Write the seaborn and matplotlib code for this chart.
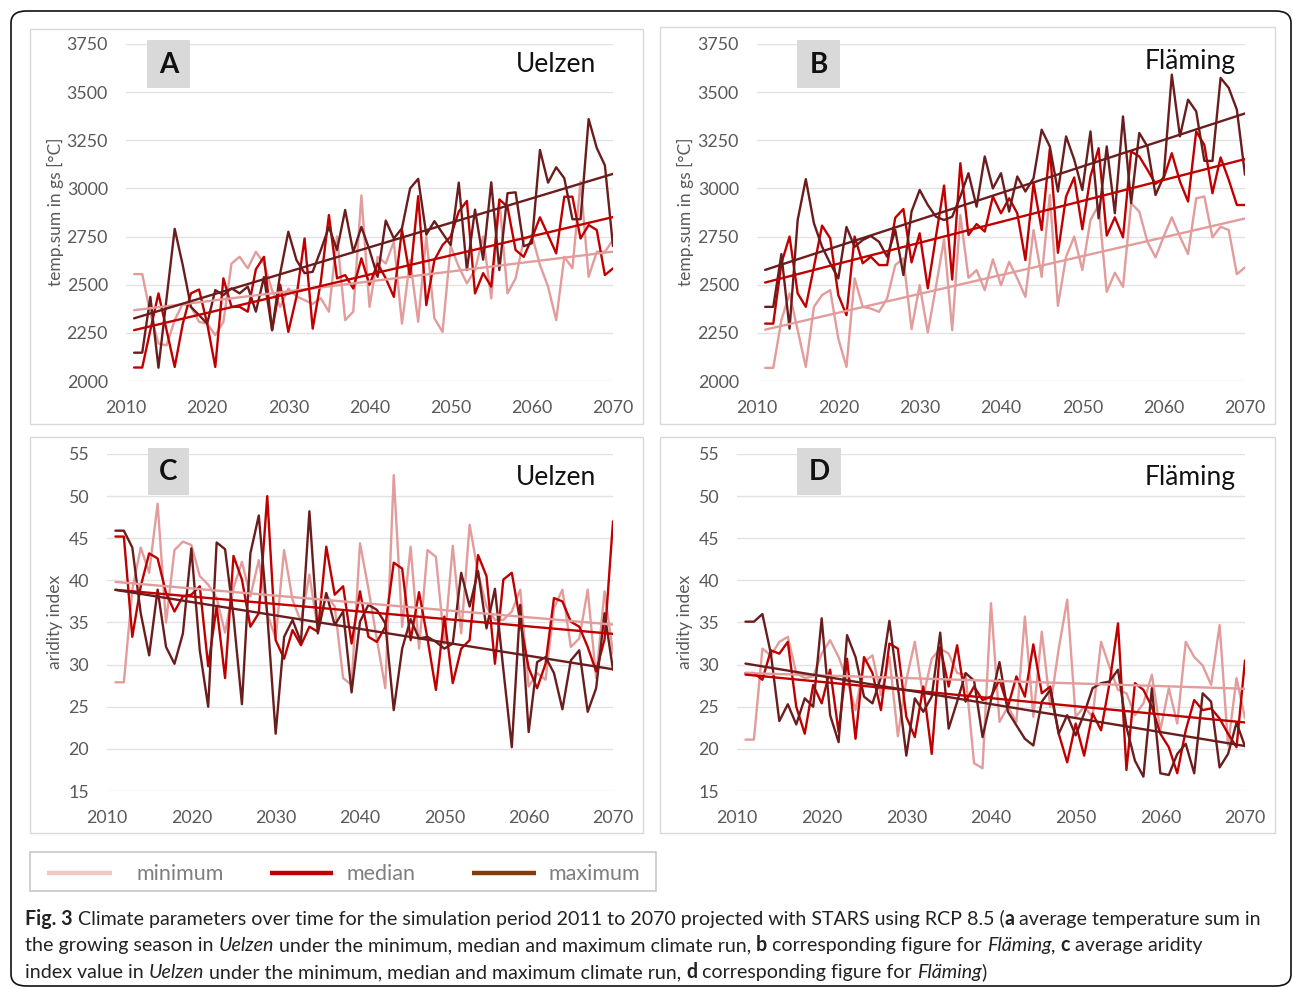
import numpy as np
import pandas as pd
import matplotlib
matplotlib.use("Agg")
import matplotlib.pyplot as plt
import seaborn as sns
from matplotlib.patches import Rectangle, FancyBboxPatch
from matplotlib.lines import Line2D

# ---------------- data ----------------
years = list(range(2011, 2071))
runs = ["minimum", "median", "maximum"]

# Panel A: temperature sum in growing season, Uelzen
a_min = [2555, 2555, 2350, 2194, 2185, 2316, 2402, 2385, 2307, 2298,
         2238, 2307, 2610, 2645, 2585, 2671, 2610, 2470, 2385, 2480,
         2440, 2420, 2400, 2430, 2360, 2750, 2316, 2360, 2963, 2385,
         2645, 2610, 2723, 2298, 2628, 2307, 2750, 2325, 2255, 2700,
         2593, 2507, 2576, 2750, 2429, 2940, 2455, 2533, 2732, 2758,
         2603, 2490, 2316, 2645, 2585, 3035, 2541, 2671, 2671, 2732]
a_med = [2070, 2070, 2264, 2455, 2264, 2073, 2298, 2455, 2475, 2298,
         2073, 2533, 2385, 2385, 2360, 2580, 2645, 2264, 2500, 2255,
         2437, 2740, 2272, 2516, 2862, 2533, 2550, 2480, 2637, 2500,
         2610, 2533, 2437, 2785, 2540, 2960, 2394, 2628, 2706, 2750,
         2880, 2935, 2455, 2560, 2490, 2943, 2905, 2680, 2645, 2740,
         2850, 2758, 2663, 2957, 2957, 2740, 2810, 2784, 2550, 2585]
a_max = [2147, 2147, 2437, 2069, 2430, 2790, 2600, 2385, 2342, 2298,
         2472, 2446, 2481, 2455, 2490, 2360, 2540, 2264, 2560, 2775,
         2628, 2560, 2567, 2680, 2800, 2680, 2888, 2670, 2800, 2680,
         2541, 2833, 2740, 2793, 3000, 3050, 2760, 2830, 2767, 2706,
         3030, 2576, 2890, 2630, 3032, 2576, 2975, 2980, 2700, 2715,
         3200, 3030, 3110, 3053, 2840, 2840, 3360, 3210, 3120, 2700]

# Panel B: temperature sum in growing season, Fläming
b_min = [2068, 2068, 2316, 2455, 2264, 2073, 2385, 2446, 2472, 2220,
         2073, 2533, 2385, 2376, 2359, 2429, 2602, 2637, 2269, 2498,
         2252, 2489, 2736, 2264, 2862, 2536, 2576, 2472, 2632, 2498,
         2619, 2533, 2437, 2784, 2541, 2966, 2390, 2645, 2750, 2576,
         2836, 2914, 2463, 2562, 2489, 2923, 2880, 2723, 2642, 2750,
         2850, 2750, 2659, 2949, 2958, 2746, 2801, 2784, 2555, 2590]
b_med = [2298, 2298, 2611, 2750, 2455, 2385, 2593, 2807, 2741, 2446,
         2342, 2750, 2611, 2645, 2602, 2602, 2848, 2893, 2616, 2767,
         2481, 2750, 3015, 2527, 3131, 2758, 2815, 2776, 2958, 2871,
         2949, 2871, 2628, 3027, 2784, 3204, 2666, 2958, 3057, 2788,
         3062, 3209, 2755, 2850, 2746, 3192, 3166, 3097, 3024, 3053,
         3183, 3036, 2932, 3296, 3226, 2975, 3161, 3045, 2914, 2914]
b_max = [2385, 2385, 2659, 2272, 2836, 3048, 2819, 2697, 2611, 2533,
         2800, 2697, 2732, 2753, 2723, 2645, 2784, 2550, 2880, 2992,
         2914, 2853, 2836, 2853, 2958, 3079, 2905, 3166, 3000, 3079,
         2880, 3062, 2984, 3053, 3305, 3218, 2984, 3270, 3150, 2992,
         3296, 2845, 3218, 2871, 3374, 2923, 3288, 3218, 2966, 3062,
         3591, 3270, 3461, 3400, 3143, 3143, 3574, 3522, 3409, 3071]

# Panel C: aridity index, Uelzen
c_min = [27.9, 27.9, 38.9, 43.9, 40.9, 49.1, 35.0, 43.6, 44.6, 44.2,
         40.5, 39.5, 37.9, 33.8, 39.1, 42.2, 38.1, 42.4, 36.1, 33.1,
         43.6, 37.7, 35.1, 40.7, 34.1, 38.3, 36.9, 28.4, 27.6, 44.4,
         39.0, 33.0, 27.2, 52.5, 34.5, 44.0, 31.9, 43.6, 42.8, 32.5,
         44.1, 33.7, 46.6, 40.9, 36.9, 35.3, 35.3, 36.3, 38.9, 27.4,
         29.0, 28.2, 36.7, 38.9, 32.1, 33.1, 38.9, 28.4, 38.7, 31.3]
c_med = [45.2, 45.2, 33.3, 39.3, 43.2, 42.6, 38.5, 36.3, 38.1, 38.3,
         39.3, 29.8, 36.9, 28.4, 42.9, 40.1, 34.5, 36.1, 50.0, 32.9,
         30.7, 34.1, 32.3, 34.5, 33.9, 44.0, 38.3, 39.3, 32.5, 38.7,
         33.3, 32.7, 34.5, 42.1, 41.4, 32.9, 38.6, 33.1, 27.0, 35.7,
         27.8, 31.9, 32.9, 43.0, 40.5, 30.1, 40.1, 40.9, 35.1, 29.6,
         27.2, 30.1, 37.9, 37.5, 35.1, 34.5, 32.1, 29.2, 33.0, 47.0]
c_max = [45.9, 45.9, 43.9, 36.1, 31.1, 38.9, 32.1, 30.1, 33.7, 43.8,
         31.7, 25.0, 44.5, 43.7, 35.7, 25.3, 43.2, 47.7, 36.0, 21.8,
         33.3, 35.3, 32.7, 48.2, 33.7, 38.5, 34.7, 36.3, 26.7, 35.1,
         37.1, 36.5, 34.9, 24.6, 31.9, 35.4, 33.1, 33.3, 32.7, 31.9,
         32.5, 40.9, 36.9, 41.1, 34.3, 39.0, 29.4, 20.2, 37.1, 22.0,
         30.3, 30.9, 29.0, 24.7, 30.5, 31.7, 24.4, 27.2, 36.1, 29.4]

# Panel D: aridity index, Fläming
d_min = [21.1, 21.1, 31.9, 31.1, 32.7, 33.3, 29.0, 28.4, 28.6, 31.3,
         32.9, 30.9, 28.2, 24.6, 30.3, 31.1, 26.4, 30.9, 21.5, 28.2,
         32.7, 26.2, 30.7, 31.9, 31.3, 29.0, 28.8, 18.3, 17.7, 37.3,
         23.2, 25.0, 23.2, 35.7, 23.8, 33.9, 25.0, 31.9, 37.7, 23.8,
         25.0, 23.8, 32.7, 29.7, 27.0, 26.6, 24.0, 25.4, 28.8, 22.2,
         27.2, 23.0, 32.7, 30.9, 29.9, 27.6, 34.7, 20.4, 28.4, 23.6]
d_med = [29.0, 29.0, 28.2, 31.7, 31.3, 32.7, 25.0, 21.8, 27.6, 25.4,
         29.4, 22.0, 30.7, 21.2, 30.9, 29.0, 24.6, 32.5, 31.9, 23.8,
         21.4, 27.4, 19.4, 32.1, 27.4, 32.3, 25.6, 27.4, 25.8, 26.2,
         28.2, 25.0, 28.6, 26.2, 32.4, 26.6, 27.4, 21.8, 18.4, 23.0,
         19.2, 24.2, 22.2, 27.8, 34.9, 17.5, 27.8, 27.0, 25.0, 21.8,
         20.2, 17.1, 22.2, 25.8, 24.6, 24.8, 23.6, 21.8, 20.2, 30.5]
d_max = [35.1, 35.1, 36.0, 31.3, 23.3, 25.3, 22.9, 26.0, 25.0, 35.5,
         24.0, 20.8, 33.5, 30.9, 26.2, 25.4, 28.5, 35.2, 27.4, 19.2,
         26.0, 24.4, 26.2, 33.8, 22.4, 25.6, 29.0, 28.1, 21.4, 25.8,
         30.3, 24.4, 22.8, 21.2, 20.4, 25.6, 27.0, 21.8, 24.0, 21.6,
         24.2, 27.2, 27.8, 28.0, 29.4, 22.6, 18.6, 16.7, 27.2, 17.1,
         16.9, 19.4, 20.6, 17.1, 26.6, 25.6, 17.8, 19.4, 23.1, 20.3]

x_ticks = [2010, 2020, 2030, 2040, 2050, 2060, 2070]
temp_ticks = [2000, 2250, 2500, 2750, 3000, 3250, 3500, 3750]
arid_ticks = [15, 20, 25, 30, 35, 40, 45, 50, 55]

# ---------------- style ----------------
W, H = 1293, 989
sns.set_theme(style="white")
plt.rcParams['font.family'] = ['Lato', 'DejaVu Sans']

palette = {"minimum": "#E29C9C", "median": "#C00000", "maximum": "#6B1D1D"}
legend_colors = {"minimum": "#F2C6C4", "median": "#C00000", "maximum": "#843C0C"}
tick_color = "#595959"
grid_color = "#E2E2E2"
frame_color = "#D9D9D9"

fig = plt.figure(figsize=(W / 100, H / 100), dpi=100)
fig.patch.set_facecolor("white")


def fx(x):
    return x / W


def fy(y):
    return 1 - y / H


def px_axes(l, t, r, b):
    return fig.add_axes([l / W, 1 - b / H, (r - l) / W, (b - t) / H])


def frame(l, t, r, b, color=frame_color, lw=1.0):
    fig.add_artist(Rectangle((fx(l), fy(b)), (r - l) / W, (b - t) / H,
                             transform=fig.transFigure, fill=False,
                             edgecolor=color, linewidth=lw))


# outer rounded border
fig.add_artist(FancyBboxPatch((fx(11), fy(986)), (1291 - 11) / W, (986 - 11) / H,
                              boxstyle="round,pad=0,rounding_size=0.012",
                              transform=fig.transFigure, fill=False,
                              edgecolor="#111111", linewidth=1.2))

panel_frames = [(30, 29, 643, 424), (660, 27, 1275, 424),
                (30, 437, 643, 833), (660, 437, 1275, 833)]
for f in panel_frames:
    frame(*f)


def panel(rect, dmin, dmed, dmax, ylim, yticks, ylabel, letter, place,
          letter_box, place_xy, ylabel_xy):
    ax = px_axes(*rect)
    df = pd.DataFrame({
        "year": years * 3,
        "value": dmin + dmed + dmax,
        "run": ["minimum"] * len(years) + ["median"] * len(years) + ["maximum"] * len(years),
    })
    sns.lineplot(data=df, x="year", y="value", hue="run", hue_order=runs,
                 palette=palette, linewidth=1.7, ax=ax, legend=False)
    for run, vals in zip(runs, [dmin, dmed, dmax]):
        sns.regplot(x=np.array(years), y=np.array(vals, dtype=float), scatter=False, ci=None,
                    ax=ax, color=palette[run], truncate=True,
                    line_kws={"linewidth": 1.7})
    ax.set_xlim(2010, 2070)
    ax.set_ylim(*ylim)
    ax.set_xticks(x_ticks)
    ax.set_yticks(yticks)
    ax.set_xlabel("")
    ax.set_ylabel("")
    for s in ax.spines.values():
        s.set_visible(False)
    ax.grid(axis="y", color=grid_color, linewidth=1.0)
    ax.grid(axis="x", visible=False)
    ax.tick_params(axis="both", length=0, labelsize=12.8, labelcolor=tick_color)
    ax.tick_params(axis="y", pad=13)
    ax.tick_params(axis="x", pad=14)
    ax.set_facecolor("white")
    # letter box
    l, t, r, b = letter_box
    fig.add_artist(Rectangle((fx(l), fy(b)), (r - l) / W, (b - t) / H,
                             transform=fig.transFigure, facecolor="#D9D9D9",
                             edgecolor="none"))
    fig.text(fx((l + r) / 2), fy((t + b) / 2 + 1), letter, ha="center", va="center",
             fontsize=20, fontweight="bold", color="#111111")
    fig.text(fx(place_xy[0]), fy(place_xy[1]), place, ha="right", va="center",
             fontsize=19, color="#111111")
    fig.text(fx(ylabel_xy[0]), fy(ylabel_xy[1]), ylabel, ha="center", va="center",
             rotation=90, fontsize=12.5, color=tick_color)
    return ax


panel((126, 44, 613, 381), a_min, a_med, a_max, (2000, 3750), temp_ticks,
      "temp.sum in gs [°C]", "A", "Uelzen", (147, 40, 190, 88), (596, 65), (55, 212))
panel((757, 44, 1245, 381), b_min, b_med, b_max, (2000, 3750), temp_ticks,
      "temp.sum in gs [°C]", "B", "Fläming", (797, 40, 840, 88), (1236, 62), (685, 212))
panel((107, 454, 613, 791), c_min, c_med, c_max, (15, 55), arid_ticks,
      "aridity index", "C", "Uelzen", (148, 448, 189, 495), (596, 478), (55, 622))
panel((737, 454, 1245, 791), d_min, d_med, d_max, (15, 55), arid_ticks,
      "aridity index", "D", "Fläming", (797, 448, 841, 495), (1236, 478), (685, 622))

# ---------------- legend ----------------
frame(30, 852, 656, 891, color="#C8C8C8", lw=1.2)
leg_items = [("minimum", 47, 112, 136), ("median", 270, 333, 346), ("maximum", 472, 536, 548)]
for name, x0, x1, tx in leg_items:
    fig.add_artist(Line2D([fx(x0), fx(x1)], [fy(873), fy(873)], transform=fig.transFigure,
                          color=legend_colors[name], linewidth=3.2, solid_capstyle="butt"))
    fig.text(fx(tx), fy(874), name, ha="left", va="center", fontsize=15.5, color="#7F7F7F")

# ---------------- caption ----------------
renderer = fig.canvas.get_renderer()
cap_family = ['Lato', 'DejaVu Sans']


def measure(txt, size, weight="normal", style="normal"):
    t = fig.text(0, 0, txt, fontsize=size, fontweight=weight, fontstyle=style, family=cap_family)
    w = t.get_window_extent(renderer).width
    t.remove()
    return w


caption_lines = [
    [("Fig. 3", "bold", "normal"), (" Climate parameters over time for the simulation period 2011 to 2070 projected with STARS using RCP 8.5 (", "normal", "normal"),
     ("a", "bold", "normal"), (" average temperature sum in", "normal", "normal")],
    [("the growing season in ", "normal", "normal"), ("Uelzen", "normal", "italic"),
     (" under the minimum, median and maximum climate run, ", "normal", "normal"), ("b", "bold", "normal"),
     (" corresponding figure for ", "normal", "normal"), ("Fläming", "normal", "italic"), (", ", "normal", "normal"),
     ("c", "bold", "normal"), (" average aridity", "normal", "normal")],
    [("index value in ", "normal", "normal"), ("Uelzen", "normal", "italic"),
     (" under the minimum, median and maximum climate run, ", "normal", "normal"), ("d", "bold", "normal"),
     (" corresponding figure for ", "normal", "normal"), ("Fläming", "normal", "italic"), (")", "normal", "normal")],
]


def piece_width(txt, size, w, s):
    # width with proper handling of leading/trailing spaces
    core = txt.strip(" ")
    sp = measure("a a", size) - measure("aa", size)
    n_sp = len(txt) - len(txt.lstrip(" ")) + len(txt) - len(txt.rstrip(" "))
    return (measure(core, size, w, s) if core else 0) + n_sp * sp, len(txt) - len(txt.lstrip(" ")), sp


def line_width(pieces, size):
    return sum(piece_width(t, size, w, s)[0] for t, w, s in pieces)


base = 13.5
target = 1261 - 25
cap_size = base * target / line_width(caption_lines[0], base)

for pieces, yb in zip(caption_lines, [925, 951, 978]):
    x = 25
    for txt, w, s in pieces:
        pw, lead, sp = piece_width(txt, cap_size, w, s)
        core = txt.strip(" ")
        if core:
            fig.text(fx(x + lead * sp), fy(yb), core, fontsize=cap_size, fontweight=w, fontstyle=s,
                     family=cap_family, ha="left", va="baseline", color="#222222")
        x += pw

fig.savefig("out.png", dpi=100, facecolor="white")
